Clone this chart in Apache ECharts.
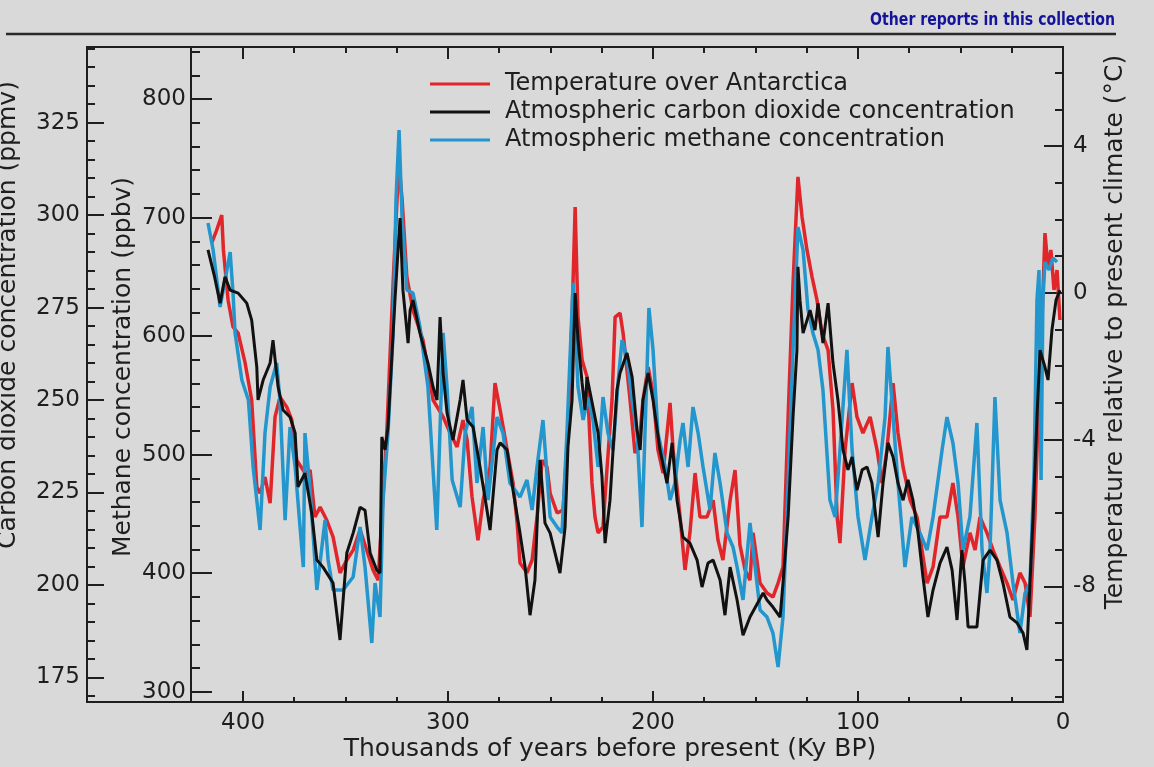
<!DOCTYPE html>
<html><head><meta charset="utf-8">
<script src="https://cdn.jsdelivr.net/npm/echarts@6/dist/echarts.min.js"></script>
<style>html,body{margin:0;padding:0;background:#d9d9d9;}#chart{width:1154px;height:767px;}</style>
</head><body><div id="chart"></div>
<script>
// ---- Data (x = thousands of years before present) ----
const tempName = 'Temperature over Antarctica';
const co2Name = 'Atmospheric carbon dioxide concentration';
const ch4Name = 'Atmospheric methane concentration';

const tempData = [[415.3,1.36],[413.2,1.66],[410.4,2.12],[409.6,1.17],[407.3,-0.20],[404.9,-0.93],[402.4,-1.10],[399.0,-1.91],[395.8,-2.92],[393.3,-5.29],[391.7,-5.46],[389.3,-5.02],[386.8,-5.73],[384.4,-3.38],[382.0,-2.84],[378.7,-3.11],[376.2,-3.47],[373.8,-4.56],[369.8,-4.91],[367.3,-4.83],[364.9,-6.11],[362.4,-5.84],[359.2,-6.19],[356.1,-6.65],[352.7,-7.63],[349.4,-7.28],[346.3,-7.01],[342.9,-6.46],[339.7,-7.01],[336.6,-7.55],[334.1,-7.83],[332.3,-6.11],[329.9,-3.82],[326.8,0.27],[324.9,2.53],[323.9,3.48],[322.4,2.53],[320.1,0.43],[317.1,-0.47],[312.2,-1.29],[307.3,-2.92],[302.4,-3.38],[299.0,-3.82],[295.6,-4.20],[292.7,-3.47],[290.7,-4.01],[288.3,-5.56],[285.4,-6.74],[282.9,-5.65],[279.5,-4.75],[277.1,-2.46],[274.6,-3.19],[271.2,-4.28],[268.3,-5.18],[266.3,-6.27],[264.9,-7.36],[261.5,-7.63],[259.0,-7.28],[256.6,-6.11],[254.1,-4.56],[251.7,-4.75],[250.2,-5.46],[246.8,-6.00],[243.9,-5.92],[241.5,-3.82],[239.5,-0.66],[238.0,2.34],[236.6,-0.66],[234.6,-1.83],[232.2,-2.29],[229.8,-5.18],[228.3,-6.11],[226.8,-6.54],[224.4,-6.38],[222.4,-4.75],[220.0,-2.92],[218.5,-0.66],[216.1,-0.55],[214.6,-1.10],[211.2,-2.92],[208.8,-4.37],[206.3,-3.82],[204.9,-2.92],[202.4,-2.02],[200.0,-2.73],[197.6,-4.28],[195.1,-4.91],[191.7,-3.00],[190.2,-4.28],[186.8,-6.11],[184.4,-7.55],[182.0,-6.54],[179.5,-4.91],[177.1,-6.11],[173.7,-6.11],[170.7,-5.65],[168.3,-6.74],[165.9,-7.28],[162.4,-5.65],[160.0,-4.83],[157.6,-6.87],[155.1,-7.55],[152.7,-7.83],[151.2,-6.54],[147.8,-7.91],[144.4,-8.18],[141.5,-8.29],[139.0,-7.91],[136.6,-7.47],[134.1,-3.38],[131.7,0.27],[129.3,3.16],[127.3,2.07],[124.9,1.17],[122.4,0.43],[120.0,-0.20],[117.6,-1.10],[114.6,-1.56],[112.2,-3.19],[110.2,-6.11],[108.8,-6.82],[106.3,-4.28],[102.9,-2.46],[100.5,-3.38],[97.6,-3.82],[94.1,-3.38],[90.7,-4.28],[88.3,-5.18],[85.9,-4.28],[82.9,-2.46],[80.5,-3.82],[78.0,-4.75],[74.6,-5.65],[71.2,-6.11],[68.8,-7.01],[66.3,-7.91],[63.4,-7.47],[60.0,-6.11],[56.6,-6.11],[53.7,-5.18],[51.2,-6.11],[48.8,-7.47],[45.4,-6.54],[42.9,-7.01],[40.5,-6.11],[37.1,-6.54],[34.1,-7.01],[30.7,-7.47],[27.3,-7.91],[24.4,-8.37],[21.0,-7.63],[18.5,-7.91],[16.1,-8.83],[13.7,-6.11],[12.2,-3.38],[10.2,-0.66],[8.8,1.63],[7.3,0.70],[5.9,1.17],[4.4,0.08],[2.9,0.62],[1.5,-0.74]];

const co2Data = [[417.1,290.6],[414.1,283.8],[411.2,276.2],[408.8,283.3],[406.3,279.7],[402.4,278.9],[398.2,276.2],[395.8,271.6],[393.3,258.9],[392.7,250.0],[390.2,255.4],[386.8,260.0],[385.4,266.2],[382.9,253.5],[380.5,247.3],[377.1,245.4],[374.6,241.1],[373.2,226.5],[369.8,230.2],[366.5,219.4],[364.0,206.7],[361.0,204.8],[356.1,200.5],[352.7,185.1],[349.4,208.6],[346.3,214.0],[342.9,221.0],[340.5,220.2],[338.0,208.6],[334.8,204.0],[333.2,203.2],[332.3,240.0],[330.7,236.5],[329.3,242.7],[325.9,277.0],[324.4,290.6],[323.4,299.2],[322.0,279.7],[319.5,265.4],[318.5,274.3],[317.1,277.0],[313.7,268.1],[309.8,260.0],[307.3,253.5],[305.4,250.0],[303.9,272.4],[302.4,257.3],[300.5,246.5],[297.6,239.2],[294.1,250.0],[292.7,255.4],[290.7,244.6],[287.8,242.7],[284.4,231.9],[281.0,220.2],[279.5,214.8],[276.1,236.5],[274.6,238.4],[271.2,236.5],[268.3,225.6],[264.9,214.0],[262.4,204.8],[260.0,191.8],[257.6,201.3],[256.1,222.9],[255.1,233.8],[252.7,216.7],[250.2,214.0],[245.4,203.2],[242.9,215.6],[241.5,237.3],[239.5,250.0],[238.0,278.9],[236.6,266.2],[234.6,254.6],[233.2,247.3],[232.2,256.2],[229.3,248.1],[226.8,241.1],[224.9,229.2],[223.4,211.3],[221.0,222.9],[219.5,236.5],[217.6,252.7],[216.1,257.3],[212.7,262.7],[210.2,256.2],[207.8,241.9],[206.3,236.5],[204.9,250.0],[202.4,257.3],[200.0,250.0],[196.6,236.5],[193.2,227.5],[190.7,238.4],[188.3,222.9],[185.4,212.9],[182.0,211.3],[178.5,206.7],[176.1,199.4],[173.2,205.9],[170.7,206.7],[167.3,201.3],[164.9,191.8],[162.4,204.8],[159.0,195.9],[156.1,186.4],[152.7,191.3],[146.3,197.8],[144.4,195.9],[141.5,194.0],[138.0,191.3],[136.6,200.5],[134.1,218.3],[131.7,245.4],[129.8,263.5],[129.3,286.0],[128.3,277.0],[126.8,268.1],[123.4,274.3],[121.0,268.9],[119.5,276.2],[117.1,265.4],[114.6,276.2],[112.2,260.0],[109.8,250.0],[107.3,236.5],[104.9,231.1],[102.9,234.6],[100.5,225.6],[98.0,231.1],[95.6,231.9],[93.2,227.5],[90.2,212.9],[87.8,227.5],[85.4,238.4],[82.9,234.6],[80.5,227.5],[78.0,222.9],[75.6,228.4],[73.2,222.9],[70.7,214.0],[68.3,202.1],[65.9,191.3],[63.4,198.6],[60.0,205.9],[56.6,210.2],[54.1,204.0],[51.7,190.5],[49.3,209.4],[47.8,200.5],[46.3,188.6],[42.0,188.6],[39.0,206.7],[35.6,209.4],[32.2,206.7],[29.3,200.5],[25.9,191.3],[22.4,189.7],[19.5,187.0],[17.6,182.4],[16.1,200.5],[14.6,218.3],[12.7,245.4],[11.2,263.5],[8.8,258.9],[7.3,255.4],[5.4,268.9],[3.4,277.0],[1.5,279.7]];

const ch4Data = [[417.1,695.4],[414.6,672.6],[411.2,624.5],[406.3,670.9],[404.9,636.3],[403.9,602.6],[400.6,562.9],[397.4,546.1],[395.1,489.6],[391.7,436.4],[389.3,518.2],[386.8,557.0],[383.6,577.3],[382.0,546.1],[379.5,444.8],[377.1,523.3],[374.6,489.6],[370.6,405.2],[369.8,518.2],[367.3,470.2],[364.0,385.8],[360.0,444.8],[358.5,411.1],[356.1,385.8],[351.2,385.8],[346.3,396.8],[342.9,438.9],[340.5,405.2],[337.2,341.1],[335.6,391.7],[333.2,363.0],[331.7,461.7],[329.3,518.2],[326.8,602.6],[325.4,714.8],[323.9,773.8],[322.4,697.9],[320.1,638.9],[317.1,636.3],[313.7,607.7],[309.8,557.0],[305.5,436.4],[302.4,602.6],[300.5,557.0],[298.0,478.6],[294.1,455.8],[291.7,518.2],[288.3,540.2],[285.9,476.1],[282.9,523.3],[280.5,461.7],[276.1,531.7],[273.2,518.2],[269.8,476.1],[264.9,464.2],[261.5,478.6],[259.0,453.3],[256.6,489.6],[253.7,529.2],[250.2,447.4],[246.8,438.9],[244.4,433.9],[242.0,518.2],[239.0,645.0],[236.6,557.0],[234.1,529.2],[231.7,548.6],[229.3,529.2],[226.8,489.6],[224.4,548.6],[222.0,518.2],[219.5,503.9],[217.1,560.4],[215.1,596.7],[212.7,582.4],[210.2,546.1],[207.8,518.2],[205.4,438.9],[202.9,573.9],[202.0,623.7],[200.0,588.3],[197.6,518.2],[194.1,489.6],[191.7,461.7],[189.3,476.1],[186.8,512.3],[185.4,526.7],[182.9,489.6],[180.5,540.2],[178.0,518.2],[175.6,489.6],[172.2,453.3],[169.8,501.4],[167.3,476.1],[163.9,433.9],[161.0,422.1],[159.0,405.2],[156.1,377.4],[152.7,442.3],[150.2,405.2],[147.8,368.9],[144.4,363.0],[141.5,349.5],[139.0,320.8],[136.6,363.0],[134.1,476.1],[131.7,588.3],[129.3,692.0],[126.8,672.6],[124.4,622.0],[122.0,602.6],[119.5,588.3],[117.1,554.5],[113.7,461.7],[111.2,447.4],[108.8,503.9],[105.4,588.3],[102.9,503.9],[100.0,447.4],[96.6,411.1],[93.2,447.4],[90.2,476.1],[86.8,531.7],[85.4,590.8],[82.9,531.7],[80.5,476.1],[77.1,405.2],[73.7,447.4],[69.8,433.9],[66.3,419.5],[63.4,447.4],[59.0,503.9],[56.6,531.7],[53.7,509.8],[51.2,476.1],[48.8,419.5],[45.4,447.4],[42.0,526.7],[39.5,419.5],[37.1,383.3],[35.6,419.5],[33.2,548.6],[30.7,461.7],[27.3,433.9],[24.4,391.7],[21.0,349.5],[18.5,383.3],[16.1,391.7],[14.1,487.0],[12.7,630.4],[11.7,655.7],[10.7,478.6],[9.8,630.4],[8.8,662.5],[6.8,655.7],[4.9,665.9],[2.9,662.5]];

// ---- Tick labels ----
const xTickLabels = [0, 100, 200, 300, 400];
const co2TickLabels = [175, 200, 225, 250, 275, 300, 325];
const ch4TickLabels = [300, 400, 500, 600, 700, 800];
const tempTickLabels = [-8, -4, 0, 4];

// ---- Axis ranges ----
const xRange = [0, 425.4];
const co2Range = [168.32, 345.47];
const ch4Range = [291.31, 843.87];
const tempRange = [-11.15, 6.70];

function steps(from, to, step) { const a = []; for (let v = from; v <= to + 1e-9; v += step) a.push(+v.toFixed(4)); return a; }
const xMinor = steps(25, 375, 25).filter(v => xTickLabels.indexOf(v) < 0);
const co2Minor = steps(170, 345, 5);
const ch4Minor = steps(300, 840, 20);
const tempMinor = steps(-11, 6, 1);

const FONT = '"DejaVu Sans", "Liberation Sans", sans-serif';
const INK = '#1e1e1e';
const labelStyle = { fontFamily: FONT, fontSize: 23, color: INK };
function axLine() { return { show: true, onZero: false, lineStyle: { color: INK, width: 2 } }; }

function xAx(pos, withLabels) {
  return {
    type: 'value', gridIndex: 0, position: pos, min: xRange[0], max: xRange[1], interval: 100, inverse: true,
    axisLine: axLine(),
    axisTick: { show: true, inside: true, length: 11, lineStyle: { color: INK, width: 2 } },
    axisLabel: withLabels ? Object.assign({ show: true, margin: 10, showMaxLabel: false }, labelStyle) : { show: false },
    splitLine: { show: false }
  };
}
function yAx(pos, offset, range, ticks, len, labels, margin) {
  return {
    type: 'value', gridIndex: 0, position: pos, offset: offset, min: range[0], max: range[1],
    axisLine: axLine(),
    axisTick: { show: true, inside: true, length: len, customValues: ticks, lineStyle: { color: INK, width: 2 } },
    axisLabel: labels ? Object.assign({ show: true, margin: margin, customValues: labels }, labelStyle) : { show: false },
    splitLine: { show: false }
  };
}

const staticGraphics = [
  { type: 'line', shape: { x1: 6, y1: 34, x2: 1116, y2: 34 }, style: { stroke: '#2a2a2a', lineWidth: 2.5 } },
  { type: 'line', shape: { x1: 86, y1: 47, x2: 192, y2: 47 }, style: { stroke: INK, lineWidth: 2 } },
  { type: 'line', shape: { x1: 86, y1: 702, x2: 192, y2: 702 }, style: { stroke: INK, lineWidth: 2 } },
  { type: 'text', x: 1115, y: 20, scaleX: 0.87, style: { text: 'Other reports in this collection', font: 'bold 18px "Liberation Sans Narrow", "DejaVu Sans Condensed", sans-serif', fill: '#14149a', align: 'right', verticalAlign: 'middle' } },
  { type: 'text', x: 8, y: 315, rotation: Math.PI / 2, style: { text: 'Carbon dioxide concentration (ppmv)', font: '25px ' + FONT, fill: INK, align: 'center', verticalAlign: 'middle' } },
  { type: 'text', x: 123, y: 367, rotation: Math.PI / 2, style: { text: 'Methane concentration (ppbv)', font: '25px ' + FONT, fill: INK, align: 'center', verticalAlign: 'middle' } },
  { type: 'text', x: 1115, y: 332, rotation: Math.PI / 2, style: { text: 'Temperature relative to present climate (°C)', font: '25px ' + FONT, fill: INK, align: 'center', verticalAlign: 'middle' } },
  { type: 'text', x: 610, y: 749, style: { text: 'Thousands of years before present (Ky BP)', font: '25px ' + FONT, fill: INK, align: 'center', verticalAlign: 'middle' } }
];

const chart = echarts.init(document.getElementById('chart'), null, { renderer: 'canvas' });
chart.setOption({
  backgroundColor: '#d9d9d9',
  animation: false,
  grid: [
    { left: 191, right: 91, top: 47, bottom: 65, show: true, borderColor: INK, borderWidth: 2 }
  ],
  xAxis: [
    xAx('bottom', true),
    xAx('top', false)
  ],
  yAxis: [
    yAx('left', 104, co2Range, co2TickLabels, 17, co2TickLabels, 7),
    yAx('left', 104, co2Range, co2Minor, 8, null),
    yAx('left', 0, ch4Range, ch4TickLabels, 21, ch4TickLabels, 5),
    yAx('left', 0, ch4Range, ch4Minor, 9, null),
    yAx('right', 0, tempRange, tempTickLabels, 19, tempTickLabels, 10),
    yAx('right', 0, tempRange, tempMinor, 8, null)
  ],
  legend: {
    orient: 'vertical', left: 430, top: 70, padding: 0, itemGap: 0,
    icon: 'rect', itemWidth: 60, itemHeight: 3,
    data: [tempName, co2Name, ch4Name],
    textStyle: { fontFamily: FONT, fontSize: 24, color: INK, lineHeight: 28, padding: [0, 0, 0, 10] }
  },
  series: [
    { name: tempName, type: 'line', xAxisIndex: 0, yAxisIndex: 4, data: tempData, showSymbol: false, lineStyle: { color: '#e0262b', width: 3.5 }, itemStyle: { color: '#e0262b' }, z: 2 },
    { name: ch4Name, type: 'line', xAxisIndex: 0, yAxisIndex: 2, data: ch4Data, showSymbol: false, lineStyle: { color: '#2396cd', width: 3.5 }, itemStyle: { color: '#2396cd' }, z: 3 },
    { name: co2Name, type: 'line', xAxisIndex: 0, yAxisIndex: 0, data: co2Data, showSymbol: false, lineStyle: { color: '#111111', width: 3 }, itemStyle: { color: '#111111' }, z: 4 }
  ]
});

// x-axis ticks placed through the chart's own x/y scales
const yBottom = chart.convertToPixel({ yAxisIndex: 2 }, ch4Range[0]);
const yTop = chart.convertToPixel({ yAxisIndex: 2 }, ch4Range[1]);
const tickGraphics = [];
function addTick(v, len) {
  const px = Math.round(chart.convertToPixel({ xAxisIndex: 0 }, v));
  tickGraphics.push({ type: 'line', z: 50, shape: { x1: px, y1: yBottom, x2: px, y2: yBottom - len }, style: { stroke: INK, lineWidth: 2 } });
  tickGraphics.push({ type: 'line', z: 50, shape: { x1: px, y1: yTop, x2: px, y2: yTop + len + 1 }, style: { stroke: INK, lineWidth: 2 } });
}
xTickLabels.forEach(v => addTick(v, 11));
xMinor.forEach(v => addTick(v, 5));
chart.setOption({ graphic: staticGraphics.concat(tickGraphics) });
</script>
</body></html>
